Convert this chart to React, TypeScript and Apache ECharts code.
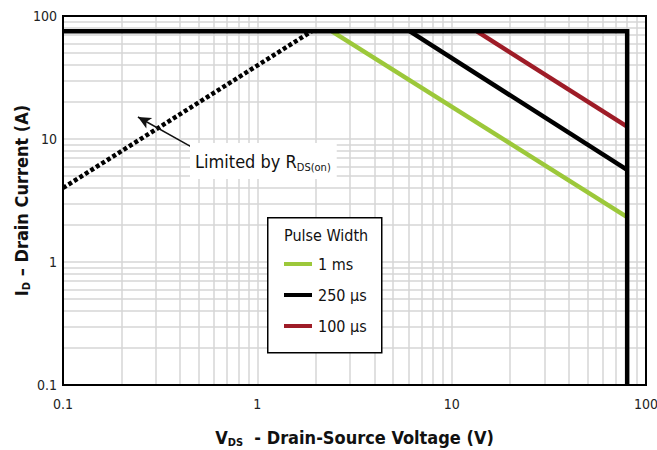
import React, { useEffect, useRef } from "react";
import * as echarts from "echarts";

// ---- data ----
const xTicks = [0.1, 1, 10, 100];
const yTicks = [0.1, 1, 10, 100];
const gridMultipliers = [2, 3, 4, 5, 6, 7, 8, 9];
const xDecades = [0.1, 1, 10];
const yDecades = [0.1, 1, 10];

const legendNames = ["1 ms", "250 µs", "100 µs"];

// R_DS(on) limit (dotted)
const rdsV = [0.1, 1.9];
const rdsI = [4, 75];
// SOA boundary: current limit and voltage limit
const limitV = [0.1, 80, 80];
const limitI = [75, 75, 0.1];
// pulse lines
const ms1V = [2.42, 80];
const ms1I = [75, 2.32];
const us250V = [6.1, 80];
const us250I = [75, 5.6];
const us100V = [13.5, 80];
const us100I = [75, 12.6];
// annotation arrow (from, to) in data coordinates
const arrowFrom = [0.46, 8.6];
const arrowTo = [0.243, 15.1];

const FONT = "'Liberation Sans Narrow', 'DejaVu Sans Condensed', 'Roboto', sans-serif";
const GREEN = "#9cc83a";
const RED = "#9e1c27";
const GRID = "#d6d6d6";

const zip = (a: number[], b: number[]) => a.map((v, i) => [v, b[i]]);

export default function App() {
  const ref = useRef<HTMLDivElement>(null);
  useEffect(() => {
    if (!ref.current) return;
    const chart = echarts.init(ref.current, undefined, { renderer: "svg" });
    const xGrid: number[] = [];
    xDecades.forEach((d) => gridMultipliers.forEach((m) => xGrid.push(+(d * m).toPrecision(3))));
    const yGrid: number[] = [];
    yDecades.forEach((d) => gridMultipliers.forEach((m) => yGrid.push(+(d * m).toPrecision(3))));
    xGrid.push(1, 10);
    yGrid.push(1, 10);

    const titleRich = {
      b: { fontSize: 18, fontWeight: "bold", fontFamily: FONT, color: "#111", lineHeight: 22, verticalAlign: "middle" },
      s: { fontSize: 11, fontWeight: "bold", fontFamily: FONT, color: "#111", lineHeight: 13, verticalAlign: "bottom" },
    };

    const option: any = {
      animation: false,
      backgroundColor: "#fff",
      textStyle: { fontFamily: FONT },
      grid: {
        left: 63,
        right: 11,
        top: 16,
        bottom: 65,
        outerBoundsMode: "none",
        containLabel: false,
        show: true,
        borderColor: "#000",
        borderWidth: 2,
        backgroundColor: "transparent",
        z: 10,
      },
      xAxis: {
        type: "log",
        logBase: 10,
        min: 0.1,
        max: 100,
        splitLine: { show: false },
        axisLine: { show: false },
        axisTick: { show: false },
        axisLabel: {
          margin: 12,
          fontSize: 14,
          color: "#222",
          fontFamily: FONT,
          formatter: (v: number) => {
            const t = xTicks.find((k) => Math.abs(k - v) / k < 1e-6);
            return t === undefined ? "" : String(t);
          },
        },
        name: "{b|V}{s|DS}{b|  - Drain-Source Voltage (V)}",
        nameLocation: "middle",
        nameGap: 41,
        nameMoveOverlap: false,
        nameTextStyle: { rich: titleRich },
      },
      yAxis: {
        type: "log",
        logBase: 10,
        min: 0.1,
        max: 100,
        splitLine: { show: false },
        axisLine: { show: false },
        axisTick: { show: false },
        axisLabel: {
          margin: 6,
          fontSize: 14,
          color: "#222",
          fontFamily: FONT,
          formatter: (v: number) => {
            const t = yTicks.find((k) => Math.abs(k - v) / k < 1e-6);
            return t === undefined ? "" : String(t);
          },
        },
        name: "{b|I}{s|D}{b| – Drain Current (A)}",
        nameLocation: "middle",
        nameRotate: 90,
        nameGap: 31,
        nameMoveOverlap: false,
        nameTextStyle: { rich: titleRich },
      },
      legend: {
        data: legendNames,
        orient: "vertical",
        left: 284,
        top: 256,
        padding: 0,
        itemGap: 15,
        itemWidth: 28,
        itemHeight: 4,
        icon: "rect",
        z: 20,
        textStyle: { fontSize: 16, color: "#111", fontFamily: FONT, padding: [0, 0, 0, 1] },
      },
      graphic: [
        {
          type: "rect",
          left: 267,
          top: 217,
          z: 15,
          shape: { width: 114, height: 135 },
          style: { fill: "#fff", stroke: "#000", lineWidth: 1.5 },
        },
        {
          type: "text",
          left: 284,
          top: 227,
          z: 16,
          style: { text: "Pulse Width", fontSize: 16, fontFamily: FONT, fill: "#111" },
        },
        {
          type: "text",
          left: 190,
          top: 143,
          z: 15,
          style: {
            text: "{a|Limited by R}{s|DS(on)}",
            backgroundColor: "#fff",
            padding: [6, 6, 6, 5],
            rich: {
              a: { fontSize: 18, fontFamily: FONT, fill: "#111", lineHeight: 24, verticalAlign: "middle" },
              s: { fontSize: 11, fontFamily: FONT, fill: "#111", lineHeight: 14, verticalAlign: "bottom" },
            },
          },
        },
      ],
      series: [
        {
          name: "grid",
          type: "line",
          data: [[0.1, 0.1]],
          symbol: "none",
          lineStyle: { opacity: 0 },
          silent: true,
          z: 1,
          markLine: {
            silent: true,
            z: 1,
            symbol: ["none", "none"],
            label: { show: false },
            lineStyle: { color: GRID, width: 1.5, type: "solid" },
            data: [
              ...xGrid.map((v) => ({ xAxis: v })),
              ...yGrid.map((v) => ({ yAxis: v })),
            ],
          },
        },
        {
          name: "1 ms",
          type: "line",
          data: zip(ms1V, ms1I),
          symbol: "none",
          color: GREEN,
          lineStyle: { color: GREEN, width: 4.5 },
          z: 3,
        },
        {
          name: "100 µs",
          type: "line",
          data: zip(us100V, us100I),
          symbol: "none",
          color: RED,
          lineStyle: { color: RED, width: 4.5 },
          z: 3,
        },
        {
          name: "limit",
          type: "line",
          data: zip(limitV, limitI),
          symbol: "none",
          color: "#000",
          lineStyle: { color: "#000", width: 4.5, join: "miter" },
          z: 4,
        },
        {
          name: "250 µs",
          type: "line",
          data: zip(us250V, us250I),
          symbol: "none",
          color: "#000",
          lineStyle: { color: "#000", width: 4.5 },
          z: 4,
        },
        {
          name: "rds",
          type: "line",
          data: zip(rdsV, rdsI),
          symbol: "none",
          color: "#000",
          lineStyle: { color: "#000", width: 4.5, type: [4, 2.5], cap: "butt" },
          z: 5,
          markLine: {
            silent: true,
            z: 6,
            symbol: ["none", "arrow"],
            symbolSize: [9, 13],
            label: { show: false },
            lineStyle: { color: "#111", width: 1.5, type: "solid" },
            data: [[{ coord: arrowFrom }, { coord: arrowTo }]],
          },
        },
      ],
    };
    chart.setOption(option);
    return () => chart.dispose();
  }, []);
  return <div ref={ref} style={{ width: 657, height: 450, position: "absolute", left: 0, top: 0 }} />;
}
